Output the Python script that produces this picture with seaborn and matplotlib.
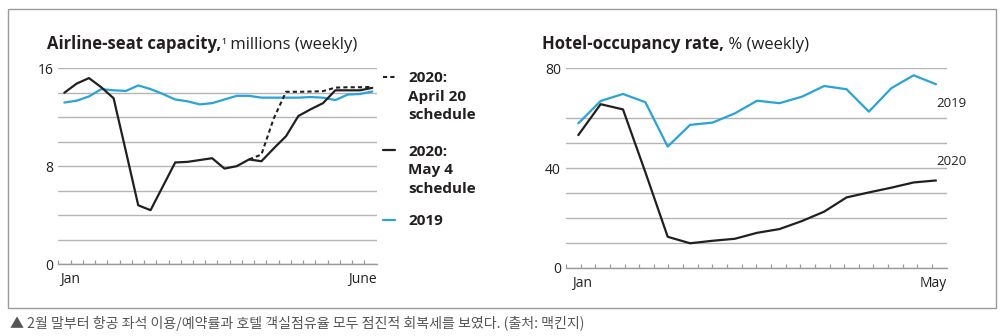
import numpy as np
import pandas as pd
import matplotlib
matplotlib.use("Agg")
import matplotlib.pyplot as plt
import seaborn as sns
from matplotlib.lines import Line2D
from matplotlib.patches import Rectangle
from matplotlib.ticker import FixedLocator

# ---------------- data ----------------
airline_weeks = list(range(26))
airline_2019 = [13.2, 13.35, 13.7, 14.3, 14.2, 14.15, 14.6, 14.3, 13.9, 13.45, 13.3, 13.05, 13.15,
                13.45, 13.75, 13.75, 13.6, 13.6, 13.6, 13.6, 13.65, 13.6, 13.4, 13.85, 13.9, 14.1]
airline_2020_may4 = [14.0, 14.75, 15.2, 14.45, 13.55, 9.2, 4.8, 4.4, 6.35, 8.3, 8.35, 8.5, 8.65,
                     7.8, 8.0, 8.55, 8.4, 9.45, 10.45, 12.1, 12.65, 13.15, 14.2, 14.2, 14.2, 14.4]
airline_2020_apr20 = [np.nan] * 15 + [8.55, 8.95, 11.9, 14.08, 14.08, 14.1, 14.13, 14.42, 14.45, 14.45, 14.48]
airline_yticks = [0, 8, 16]
airline_grid = [2, 4, 6, 10, 12, 14]
airline_xlabels = ["Jan", "June"]
airline_legend = ["2020:\nApril 20\nschedule", "2020:\nMay 4\nschedule", "2019"]

hotel_weeks = list(range(17))
hotel_2019 = [57.9, 66.9, 69.7, 66.4, 48.6, 57.3, 58.2, 61.9, 67.0, 66.0, 68.6, 72.9, 71.6, 62.6, 72.0, 77.2, 73.6]
hotel_2020 = [53.2, 65.6, 63.5, 38.3, 12.4, 9.8, 10.8, 11.6, 14.0, 15.5, 18.7, 22.5, 28.2, 30.2, 32.1, 34.2, 35.0]
hotel_yticks = [0, 40, 80]
hotel_grid = [10, 20, 30, 50, 60]
hotel_xlabels = ["Jan", "May"]

caption = "▲ 2월 말부터 항공 좌석 이용/예약률과 호텔 객실점유율 모두 점진적 회복세를 보였다. (출처: 맥킨지)"

# ---------------- style ----------------
BLUE = "#29a3da"
BLACK = "#231f20"
GRID = "#b5b5b5"
AXIS = "#9a9a9a"

sns.set_theme(style="white")
plt.rcParams['font.family'] = ['Open Sans', 'DejaVu Sans']
plt.rcParams['text.color'] = BLACK
plt.rcParams['xtick.color'] = BLACK
plt.rcParams['ytick.color'] = BLACK

W, H = 1004, 336
fig = plt.figure(figsize=(W / 100, H / 100), dpi=100)


def px_axes(x0, y_top, x1, y_bot):
    return fig.add_axes([x0 / W, 1 - y_bot / H, (x1 - x0) / W, (y_bot - y_top) / H])


def style(ax, xlim, ylim, yticks, grid_vals, label_pos, labels):
    ax.set_xlim(xlim)
    ax.set_ylim(ylim)
    for s in ['top', 'right', 'left']:
        ax.spines[s].set_visible(False)
    ax.spines['bottom'].set_color(AXIS)
    ax.spines['bottom'].set_linewidth(1)
    ax.set_yticks(yticks)
    ax.yaxis.set_minor_locator(FixedLocator(grid_vals))
    ax.grid(True, axis='y', which='both', color=GRID, lw=1)
    ax.grid(False, axis='x')
    ax.tick_params(axis='y', which='both', length=0, pad=3.6, labelsize=10)
    ax.set_xticks(label_pos, labels)
    ax.xaxis.set_minor_locator(FixedLocator(np.linspace(xlim[0], xlim[1], 27)))
    ax.tick_params(axis='x', which='minor', direction='in', length=3, width=0.9, color=AXIS, bottom=True)
    ax.tick_params(axis='x', which='major', length=0, pad=6, labelsize=10)
    tl = ax.get_xticklabels()
    tl[0].set_ha('left')
    tl[1].set_ha('right')
    ax.set_xlabel('')
    ax.set_ylabel('')
    ax.set_axisbelow(True)
    ax.patch.set_alpha(0)


# ---------------- airline panel ----------------
ax1 = px_axes(58.3, 68.3, 376.7, 264.0)
sns.lineplot(x=airline_weeks, y=airline_2019, ax=ax1, color=BLUE, lw=1.6)
sns.lineplot(x=airline_weeks, y=airline_2020_may4, ax=ax1, color=BLACK, lw=1.6)
sns.lineplot(x=airline_weeks, y=airline_2020_apr20, ax=ax1, color=BLACK, lw=1.5, linestyle='--')
ax1.lines[-1].set_dashes((2.0, 1.5))
style(ax1, (-0.49, 25.36), (0, 16), airline_yticks, airline_grid, [-0.35, 25.36], airline_xlabels)

# legends (one per entry, multi-line labels)
dash_handle = Line2D([], [], color=BLACK, lw=1.5, linestyle=(0, (2.0, 1.5)))
solid_handle = Line2D([], [], color=BLACK, lw=1.6)
blue_handle = Line2D([], [], color=BLUE, lw=1.6)
blank = Line2D([], [], color='none')

for handle, label, top in [(dash_handle, airline_legend[0], 71.0),
                           (solid_handle, airline_legend[1], 144.5),
                           (blue_handle, airline_legend[2], 214.0)]:
    lines = label.split("\n")
    hs = [handle] + [blank] * (len(lines) - 1)
    leg = fig.legend(hs, lines, loc='upper left', bbox_to_anchor=(383.3 / W, 1 - top / H),
                     bbox_transform=fig.transFigure, frameon=False, borderpad=0, borderaxespad=0,
                     handlelength=0.77, handletextpad=0.87, labelspacing=0.31,
                     prop={'weight': 'bold', 'size': 11})
    for t in leg.get_texts():
        t.set_color(BLACK)

# ---------------- hotel panel ----------------
ax2 = px_axes(566.0, 68.3, 946.7, 267.7)
sns.lineplot(x=hotel_weeks, y=hotel_2019, ax=ax2, color=BLUE, lw=1.6)
sns.lineplot(x=hotel_weeks, y=hotel_2020, ax=ax2, color=BLACK, lw=1.6)
style(ax2, (-0.55, 16.48), (0, 80), hotel_yticks, hotel_grid, [-0.28, 16.48], hotel_xlabels)
ax2.text(16.03, 65.7, "2019", ha='left', va='center', fontsize=9.5, color=BLACK)
ax2.text(16.03, 42.8, "2020", ha='left', va='center', fontsize=9.5, color=BLACK)

# ---------------- titles ----------------
renderer = fig.canvas.get_renderer()


def title_parts(x_px, y_px, parts):
    x = x_px
    for text, size, weight in parts:
        t = fig.text(x / W, 1 - y_px / H, text, fontsize=size, fontweight=weight, color=BLACK,
                     ha='left', va='baseline')
        x = t.get_window_extent(renderer).x1


title_parts(47, 49.3, [("Airline-seat capacity,", 12, 'bold'), ("¹", 9.5, 'normal'),
                       (" millions (weekly)", 12, 'normal')])
title_parts(541.7, 49.0, [("Hotel-occupancy rate,", 12, 'bold'), (" % (weekly)", 12, 'normal')])

# ---------------- frame & caption ----------------
fig.patches.append(Rectangle((8.3 / W, 1 - 307.7 / H), (995.7 - 8.3) / W, (307.7 - 9.3) / H,
                             transform=fig.transFigure, fill=False, ec=AXIS, lw=1))
fig.text(10 / W, 1 - 323 / H, caption, fontsize=10.1, color='#555555', va='center', ha='left',
         family=['Noto Sans CJK KR', 'DejaVu Sans'])

fig.savefig('out.png', dpi=100)
